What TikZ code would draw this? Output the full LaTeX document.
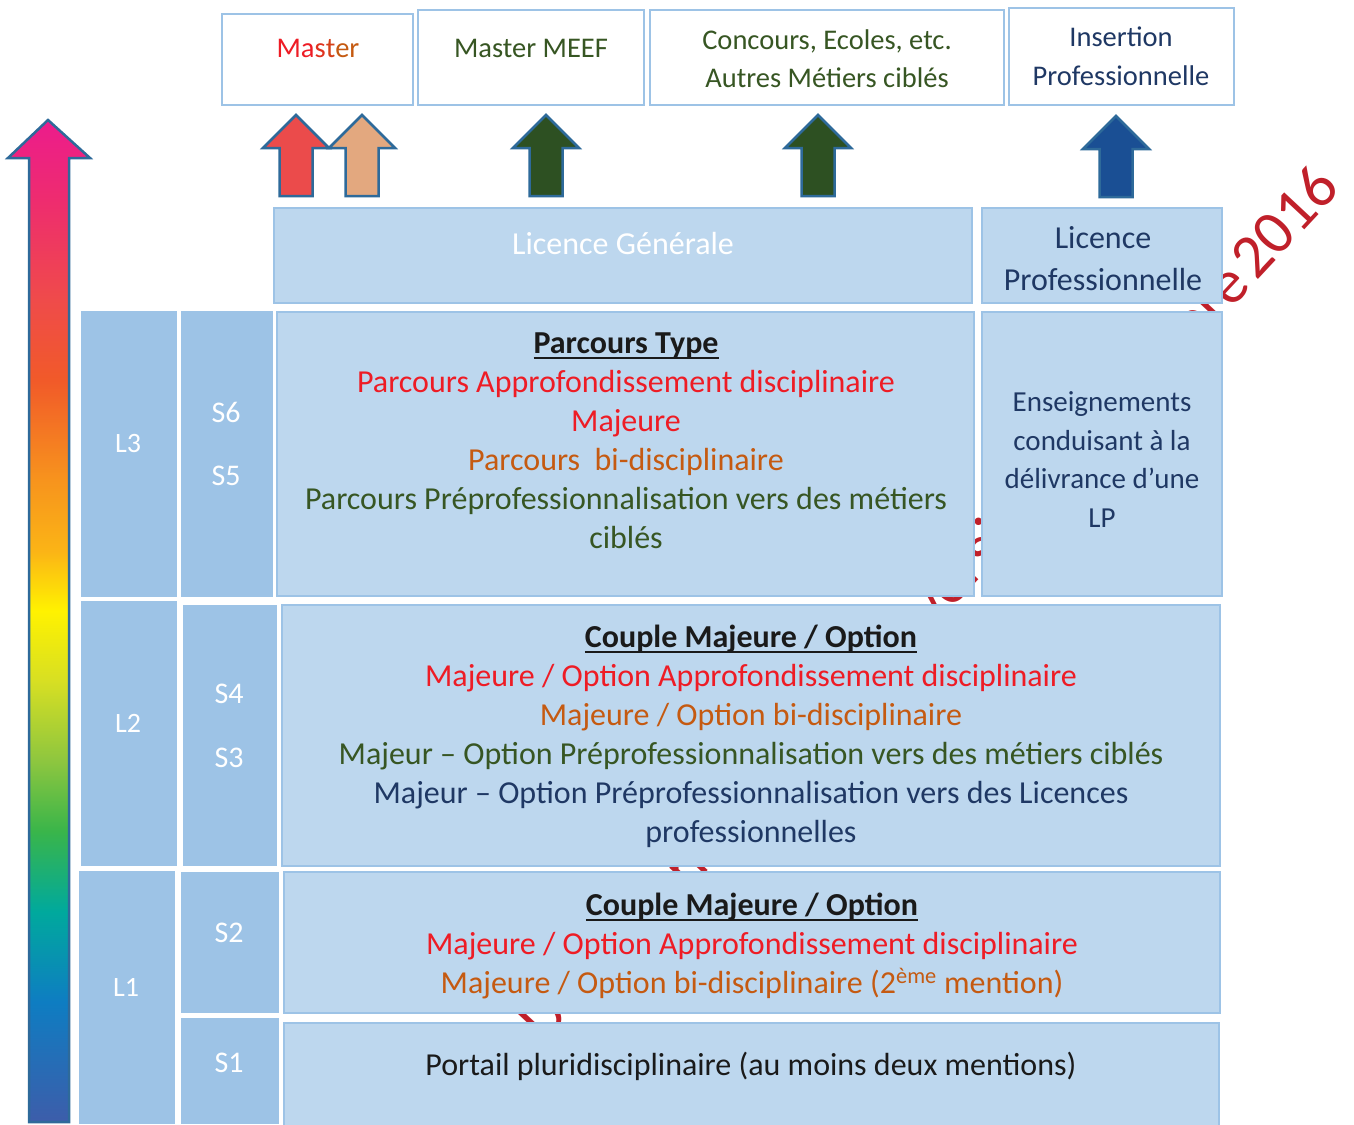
\documentclass[tikz,border=0pt]{standalone}
\usepackage{fontspec}
\setmainfont{Carlito}
\definecolor{lite}{HTML}{BDD7EE}
\definecolor{dark}{HTML}{9DC3E6}
\definecolor{bord}{HTML}{9DC3E6}
\definecolor{cred}{HTML}{EE1C25}
\definecolor{corange}{HTML}{C55A11}
\definecolor{cgreen}{HTML}{375623}
\definecolor{cnavy}{HTML}{1F3864}
\definecolor{cblack}{HTML}{1A1A1A}
\definecolor{wm}{HTML}{C0202A}
\definecolor{arrbord}{HTML}{2E6A9A}
\definecolor{ared}{HTML}{EB4B4B}
\definecolor{apeach}{HTML}{E3A87F}
\definecolor{agreen}{HTML}{2D5022}
\definecolor{ablue}{HTML}{1A4F94}
\definecolor{rb0}{HTML}{3D5DAA}
\definecolor{rb1}{HTML}{0E7DC2}
\definecolor{rb2}{HTML}{00A99D}
\definecolor{rb3}{HTML}{39B54A}
\definecolor{rb4}{HTML}{8DC63F}
\definecolor{rb5}{HTML}{D7DF23}
\definecolor{rb6}{HTML}{FFF200}
\definecolor{rb7}{HTML}{FBB416}
\definecolor{rb8}{HTML}{F7941D}
\definecolor{rb9}{HTML}{F15A29}
\definecolor{rb10}{HTML}{EF4B4A}
\definecolor{rb11}{HTML}{EE2C6F}
\definecolor{rb12}{HTML}{EC1C8C}
\pgfdeclareverticalshading{rainbow}{100bp}{color(0bp)=(rb0); color(25bp)=(rb0); color(31bp)=(rb1); color(35.5bp)=(rb2); color(39.5bp)=(rb3); color(43bp)=(rb4); color(47bp)=(rb5); color(50.5bp)=(rb6); color(53.5bp)=(rb7); color(57bp)=(rb8); color(62bp)=(rb9); color(66bp)=(rb10); color(71bp)=(rb11); color(75bp)=(rb12); color(100bp)=(rb12)}
\newcommand\bx[6]{\node[#2, minimum width={#5-#3}, minimum height={#6-#4}] (#1) at ({(#3+#5)/2},{(#4+#6)/2}) {};}
\newcommand\txt[5]{\node[#4, anchor=base] (#1) at (#2,#3) {#5};}
\begin{document}
\begin{tikzpicture}[x=1pt,y=-1pt,
  lbox/.style={draw=bord, line width=2.5pt, fill=lite, inner sep=0pt, outer sep=0pt},
  dbox/.style={fill=dark, inner sep=0pt, outer sep=0pt},
  topbox/.style={draw=bord, line width=2.5pt, fill=white, inner sep=0pt, outer sep=0pt},
  tx/.style={inner sep=0pt, outer sep=0pt, font=\fontsize{32}{39}\selectfont},
  txs/.style={inner sep=0pt, outer sep=0pt, font=\fontsize{28.5}{34}\selectfont},
  txe/.style={inner sep=0pt, outer sep=0pt, font=\fontsize{29}{34}\selectfont, text=cnavy},
  lab/.style={inner sep=0pt, outer sep=0pt, font=\fontsize{28}{34}\selectfont, text=white},
  slab/.style={inner sep=0pt, outer sep=0pt, font=\fontsize{30}{34}\selectfont, text=white},
  hd/.style={tx, font=\fontsize{32}{39}\selectfont\bfseries, text=cblack},
  ul/.style={line width=2.2pt, cblack},
  wmark/.style={inner sep=0pt, outer sep=0pt, font=\fontsize{62}{64}\selectfont, text=wm},
  arr/.style={draw=arrbord, line width=2.5pt},
  uparr/.pic={\path[pic actions] (-16.5,81) -- (-16.5,33) -- (-33,33) -- (0,0) -- (33,33) -- (16.5,33) -- (16.5,81) -- cycle;}
]
\useasboundingbox (0,0) rectangle (1354,1124);
\fill[white] (0,0) rectangle (1354,1124);

% watermark (mostly hidden behind the boxes)
\node[wmark, rotate=47, anchor=base east] (wmk) at (1342,190) {Document de travail – version septembre\hspace{0.1em}2016};

% big gradient arrow
\path[draw=arrbord, line width=2.5pt, shading=rainbow] (29,1122) -- (29,158) -- (8,158) -- (48,120) -- (90,158) -- (69,158) -- (69,1122) -- cycle;

% top boxes
\bx{master}{topbox}{222}{14}{413}{105}
\bx{meef}{topbox}{418}{10}{644}{105}
\bx{conc}{topbox}{650}{10}{1004}{105}
\bx{ins}{topbox, line width=1.5pt}{1009}{8}{1234}{105}

\txt{tmaster}{318}{58}{txs}{\color{cred}Ma\color{cred!65!corange}s\color{cred!40!corange}t\color{corange}er}
\txt{tmeef}{531}{57}{txs, text=cgreen}{Master MEEF}
\txt{tconc1}{827}{50}{txs, text=cgreen}{Concours, Ecoles, etc.}
\txt{tconc2}{827}{87}{txs, text=cgreen}{Autres Métiers ciblés}
\txt{tins1}{1121}{47}{txs, text=cnavy}{Insertion}
\txt{tins2}{1121}{85}{txs, text=cnavy}{Professionnelle}

% small arrows
\pic[arr, fill=ared] (ar1) at (296,115) {uparr};
\pic[arr, fill=apeach] (ar2) at (362,115) {uparr};
\pic[arr, fill=agreen] (ar3) at (546,115) {uparr};
\pic[arr, fill=agreen] (ar4) at (818,115) {uparr};
\pic[arr, fill=ablue] (ar5) at (1116,116) {uparr};

% licence row
\bx{lg}{lbox}{274}{208}{972}{303}
\bx{lp}{lbox}{982}{208}{1222}{303}
\txt{tlg}{623}{254}{tx, text=white}{Licence Générale}
\txt{tlp1}{1103}{248}{tx, text=cnavy}{Licence}
\txt{tlp2}{1103}{290}{tx, text=cnavy}{Professionnelle}

% L3 row
\bx{l3}{dbox}{81}{311}{177}{597}
\bx{s65}{dbox}{181}{311}{273}{597}
\bx{pt}{lbox}{277}{312}{974}{596}
\bx{ens}{lbox}{982}{312}{1222}{596}
\txt{tl3}{128}{452}{lab}{L3}
\txt{ts6}{226}{422}{slab}{S6}
\txt{ts5}{226}{485}{slab}{S5}
\txt{h1}{626}{353}{hd}{Parcours Type}
\draw[ul] ([yshift=-5pt]h1.base west) -- ([yshift=-5pt]h1.base east);
\txt{p1}{626}{392}{tx, text=cred}{Parcours Approfondissement disciplinaire}
\txt{p2}{626}{431}{tx, text=cred}{Majeure}
\txt{p3}{626}{470}{tx, text=corange}{Parcours~ bi-disciplinaire}
\txt{p4}{626}{509}{tx, text=cgreen}{Parcours Préprofessionnalisation vers des métiers}
\txt{p5}{626}{548}{tx, text=cgreen}{ciblés}
\txt{e1}{1102}{411}{txe}{Enseignements}
\txt{e2}{1102}{450}{txe}{conduisant à la}
\txt{e3}{1102}{488}{txe}{délivrance d’une}
\txt{e4}{1102}{527}{txe}{LP}

% L2 row
\bx{l2}{dbox}{81}{601}{177}{866}
\bx{s43}{dbox}{183}{605}{277}{866}
\bx{c2}{lbox}{282}{605}{1220}{866}
\txt{tl2}{128}{732}{lab}{L2}
\txt{ts4}{229}{703}{slab}{S4}
\txt{ts3}{229}{767}{slab}{S3}
\txt{h2}{751}{647}{hd}{Couple Majeure / Option}
\draw[ul] ([yshift=-5pt]h2.base west) -- ([yshift=-5pt]h2.base east);
\txt{q1}{751}{686}{tx, text=cred}{Majeure / Option Approfondissement disciplinaire}
\txt{q2}{751}{725}{tx, text=corange}{Majeure / Option bi-disciplinaire}
\txt{q3}{751}{764}{tx, text=cgreen}{Majeur – Option Préprofessionnalisation vers des métiers ciblés}
\txt{q4}{751}{803}{tx, text=cnavy}{Majeur – Option Préprofessionnalisation vers des Licences}
\txt{q5}{751}{842}{tx, text=cnavy}{professionnelles}

% L1 row
\bx{l1}{dbox}{79}{871}{175}{1124}
\bx{s2}{dbox}{181}{872}{279}{1013}
\bx{s1}{dbox}{181}{1018}{279}{1124}
\bx{c1}{lbox}{284}{872}{1220}{1013}
\bx{por}{lbox}{284}{1023}{1219}{1126}
\txt{tl1}{126}{996}{lab}{L1}
\txt{ts2}{229}{942}{slab}{S2}
\txt{ts1}{229}{1072}{slab}{S1}
\txt{h3}{752}{915}{hd}{Couple Majeure / Option}
\draw[ul] ([yshift=-5pt]h3.base west) -- ([yshift=-5pt]h3.base east);
\txt{r1}{752}{954}{tx, text=cred}{Majeure / Option Approfondissement disciplinaire}
\txt{r2}{752}{993}{tx, text=corange}{Majeure / Option bi-disciplinaire (2\textsuperscript{ème} mention)}
\txt{por1}{751}{1075}{tx, text=cblack}{Portail pluridisciplinaire (au moins deux mentions)}
\end{tikzpicture}
\end{document}
